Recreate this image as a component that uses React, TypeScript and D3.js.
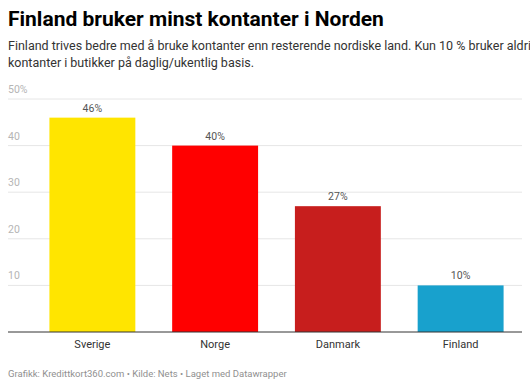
import React from 'react';
import * as d3 from 'd3';

const countries = ['Sverige', 'Norge', 'Danmark', 'Finland'];
const shares = [46, 40, 27, 10];
const barColors = ['#ffe500', '#ff0000', '#c71e1d', '#18a1cd'];
const yTicks = [10, 20, 30, 40, 50];

const W = 530;
const H = 388;

export default function App() {
  // chart area
  const left = 8,
    right = 522,
    top = 99,
    bottom = 332;

  const x = d3
    .scaleBand<string>()
    .domain(countries)
    .range([31, right])
    .paddingInner(0.3)
    .paddingOuter(0.15);

  const y = d3.scaleLinear().domain([0, 50]).range([bottom, top]);

  return (
    <div style={{ position: 'fixed', left: 0, top: 0 }}>
      <svg width={W} height={H} style={{ display: 'block', fontFamily: 'Roboto, sans-serif' }}>
        <rect width={W} height={H} fill="#fff" />
        <text x={8} y={26} fontSize={21} fontWeight={700} fill="#000">
          Finland bruker minst kontanter i Norden
        </text>
        <text x={8} y={50} fontSize={12.5} fill="#333">
          Finland trives bedre med å bruke kontanter enn resterende nordiske land. Kun 10 % bruker aldri
        </text>
        <text x={8} y={67} fontSize={12.5} fill="#333">
          kontanter i butikker på daglig/ukentlig basis.
        </text>

        {/* grid */}
        {yTicks.map((t) => (
          <g key={t}>
            <line x1={left} x2={right} y1={y(t)} y2={y(t)} stroke="#e6e6e6" strokeWidth={1} />
            <text x={left} y={y(t) - 6} fontSize={10.5} fill="#b5b5b5">
              {t === 50 ? t + '%' : t}
            </text>
          </g>
        ))}

        {/* bars */}
        {countries.map((c, i) => (
          <g key={c}>
            <rect
              x={x(c)}
              y={y(shares[i])}
              width={x.bandwidth()}
              height={y(0) - y(shares[i])}
              fill={barColors[i]}
            />
            <text
              x={(x(c) as number) + x.bandwidth() / 2}
              y={y(shares[i]) - 6}
              fontSize={10.5}
              fill="#555"
              textAnchor="middle"
            >
              {shares[i]}%
            </text>
            <text
              x={(x(c) as number) + x.bandwidth() / 2}
              y={bottom + 16}
              fontSize={11}
              fill="#333"
              textAnchor="middle"
            >
              {c}
            </text>
          </g>
        ))}

        <line x1={left} x2={right} y1={bottom} y2={bottom} stroke="#333" strokeWidth={1} />

        <text x={8} y={377} fontSize={9.5} fill="#909090">
          Grafikk: Kredittkort360.com • Kilde: Nets • Laget med Datawrapper
        </text>
      </svg>
    </div>
  );
}
